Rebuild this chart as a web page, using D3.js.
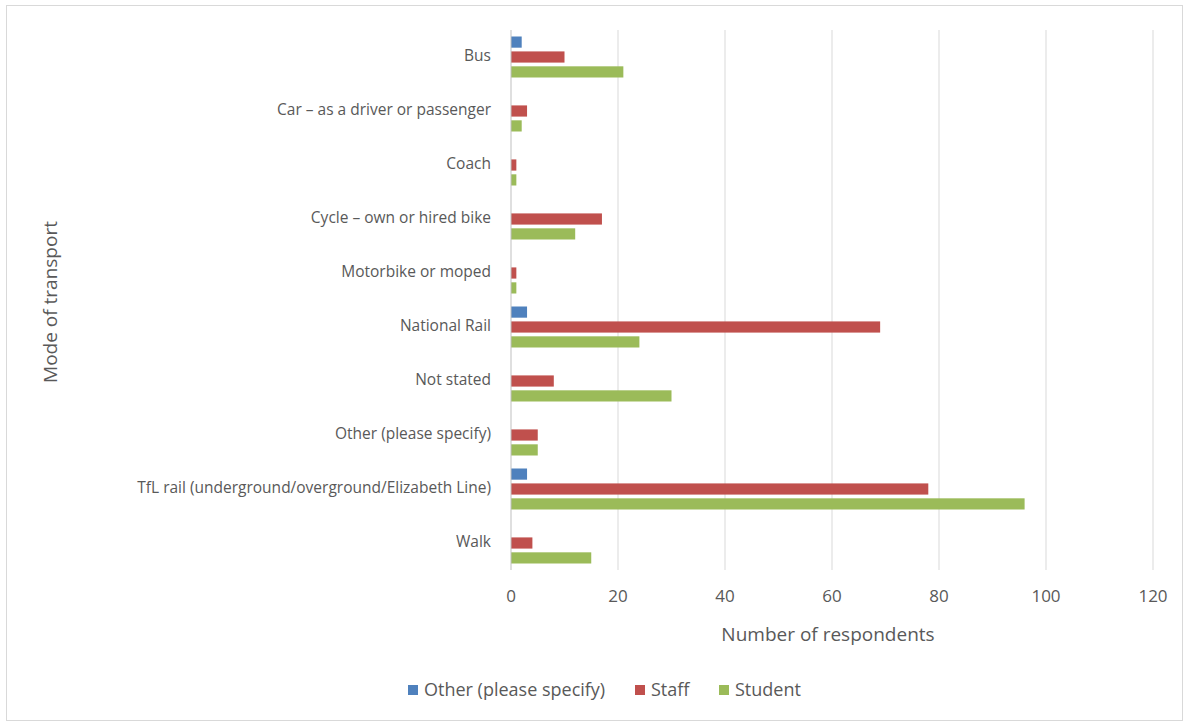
<!DOCTYPE html>
<meta charset="utf-8">
<style>
  body { margin: 0; background: #fff; }
  text { font-family: "Open Sans", "Noto Sans", sans-serif; fill: #595959; }
</style>
<body>
  <script src="https://d3js.org/d3.v7.min.js"></script>
  <script>
    // chart data
    var categories = ["Bus", "Car \u2013 as a driver or passenger", "Coach", "Cycle \u2013 own or hired bike",
      "Motorbike or moped", "National Rail", "Not stated", "Other (please specify)",
      "TfL rail (underground/overground/Elizabeth Line)", "Walk"];
    var seriesNames = ["Other (please specify)", "Staff", "Student"];
    var otherValues = [2, 0, 0, 0, 0, 3, 0, 0, 3, 0];
    var staffValues = [10, 3, 1, 17, 1, 69, 8, 5, 78, 4];
    var studentValues = [21, 2, 1, 12, 1, 24, 30, 5, 96, 15];
    var xTicks = [0, 20, 40, 60, 80, 100, 120];
    var colors = ["#4f81bd", "#c0504d", "#9bbb59"];

    var W = 1188, H = 725;
    var margin = { top: 30, right: 35, bottom: 155, left: 511 },
      width = W - margin.left - margin.right,
      height = H - margin.top - margin.bottom;

    var svg = d3.select("body").append("svg")
      .attr("width", W)
      .attr("height", H);

    // chart frame
    svg.append("rect")
      .attr("x", 6.5).attr("y", 5.5)
      .attr("width", W - 12).attr("height", H - 10)
      .attr("fill", "#fff")
      .attr("stroke", "#d9d9d9");

    var g = svg.append("g")
      .attr("transform", "translate(" + margin.left + "," + margin.top + ")");

    var x = d3.scaleLinear().domain([0, 120]).range([0, width]);
    var y = d3.scaleBand().domain(categories).range([0, height]);
    var ySub = d3.scaleBand().domain(seriesNames)
      .range([y.bandwidth() / 2 - 20.5, y.bandwidth() / 2 + 20.5]).paddingInner(0.25);

    // gridlines
    g.selectAll(".grid")
      .data(xTicks.slice(1))
      .enter().append("line")
      .attr("x1", function(d) { return x(d); })
      .attr("x2", function(d) { return x(d); })
      .attr("y1", 0).attr("y2", height)
      .attr("stroke", "#d9d9d9");

    // bars
    var series = [otherValues, staffValues, studentValues];
    series.forEach(function(vals, si) {
      g.selectAll(".bar" + si)
        .data(vals)
        .enter().append("rect")
        .attr("x", x(0))
        .attr("y", function(d, i) { return y(categories[i]) + ySub(seriesNames[si]); })
        .attr("width", function(d) { return x(d) - x(0); })
        .attr("height", ySub.bandwidth())
        .attr("fill", colors[si])
        .style("display", function(d) { return d > 0 ? null : "none"; });
    });

    // vertical axis line
    g.append("line")
      .attr("x1", 0).attr("x2", 0)
      .attr("y1", 0).attr("y2", height)
      .attr("stroke", "#bfbfbf");

    // x tick labels
    g.selectAll(".xt")
      .data(xTicks)
      .enter().append("text")
      .attr("x", function(d) { return x(d); })
      .attr("y", height + 32)
      .attr("text-anchor", "middle")
      .style("font-size", "17px")
      .text(function(d) { return d; });

    // category labels
    g.selectAll(".yt")
      .data(categories)
      .enter().append("text")
      .attr("x", -20)
      .attr("y", function(d) { return y(d) + 26; })
      .attr("dy", "0.35em")
      .attr("text-anchor", "end")
      .style("font-size", "15.5px")
      .text(function(d) { return d; });

    // axis titles
    svg.append("text")
      .attr("x", margin.left + width / 2 - 4)
      .attr("y", 641)
      .attr("text-anchor", "middle")
      .style("font-size", "19px")
      .text("Number of respondents");

    svg.append("text")
      .attr("transform", "translate(57,302) rotate(-90)")
      .attr("text-anchor", "middle")
      .style("font-size", "19px")
      .text("Mode of transport");

    // legend
    var legendX = [408, 635, 719];
    var legend = svg.selectAll(".legend")
      .data(seriesNames)
      .enter().append("g")
      .attr("transform", function(d, i) { return "translate(" + legendX[i] + ",685)"; });
    legend.append("rect")
      .attr("width", 10).attr("height", 10)
      .attr("fill", function(d, i) { return colors[i]; });
    legend.append("text")
      .attr("x", 16).attr("y", 5)
      .attr("dy", "0.35em")
      .style("font-size", "18px")
      .text(function(d) { return d; });
  </script>
</body>
